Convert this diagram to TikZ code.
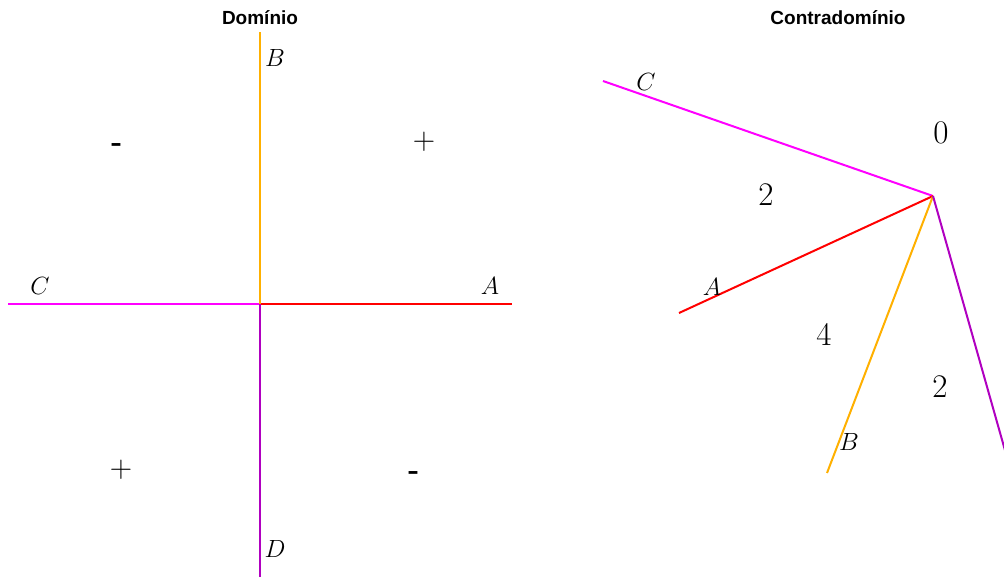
\documentclass[tikz,border=0pt]{standalone}
\usepackage{fontspec}
\newfontfamily\hsans{Liberation Sans}
\begin{document}
\begin{tikzpicture}[x=1pt,y=-1pt,
  axis/.style={line width=2pt},
  lbl/.style={inner sep=0pt,font=\fontsize{23}{25}\selectfont},
  num/.style={inner sep=0pt,font=\fontsize{33}{35}\selectfont},
  sgn/.style={inner sep=0pt,font=\fontsize{31}{33}\selectfont},
  minus/.style={inner sep=0pt,font=\hsans\fontsize{36}{38}\selectfont},
  ttl/.style={inner sep=0pt,font=\hsans\bfseries\fontsize{19}{21}\selectfont}]
\definecolor{cmag}{RGB}{255,0,255}
\definecolor{cred}{RGB}{255,0,0}
\definecolor{corg}{RGB}{255,176,0}
\definecolor{cpur}{RGB}{176,0,192}
\clip (0,0) rectangle (1004,577);
% left: domain
\coordinate (O) at (260,304);
\coordinate (Lc) at (8,304);
\coordinate (La) at (512,304);
\coordinate (Lb) at (260,32);
\coordinate (Ld) at (260,580);
\draw[axis,cmag] (O) -- (Lc);
\draw[axis,cred] (O) -- (La);
\draw[axis,corg] (O) -- (Lb);
\draw[axis,cpur] (O) -- (Ld);
\node[ttl] (t1) at (260,18) {Domínio};
\node[lbl] (lB) at (275,58) {$B$};
\node[lbl] (lC) at (40,286) {$C$};
\node[lbl] (lA) at (490,286) {$A$};
\node[lbl] (lD) at (275,549) {$D$};
\node[minus] (s1) at (116,149) {-};
\node[sgn] (s2) at (424,142) {+};
\node[sgn] (s3) at (121,470) {+};
\node[minus] (s4) at (413,477) {-};
% right: codomain
\coordinate (P) at (933,196);
\coordinate (Rc) at (603,81);
\coordinate (Ra) at (679,313);
\coordinate (Rb) at (827,473);
\coordinate (Rd) at (1010,468);
\draw[axis,cmag] (P) -- (Rc);
\draw[axis,cred] (P) -- (Ra);
\draw[axis,corg] (P) -- (Rb);
\draw[axis,cpur] (P) -- (Rd);
\node[ttl] (t2) at (838,18) {Contradomínio};
\node[lbl] (rC) at (646,82) {$C$};
\node[lbl] (rA) at (712,287) {$A$};
\node[lbl] (rB) at (849,442) {$B$};
\node[num] (n0) at (941,133) {0};
\node[num] (n1) at (766,195) {2};
\node[num] (n2) at (824,334) {4};
\node[num] (n3) at (940,387) {2};
\end{tikzpicture}
\end{document}
